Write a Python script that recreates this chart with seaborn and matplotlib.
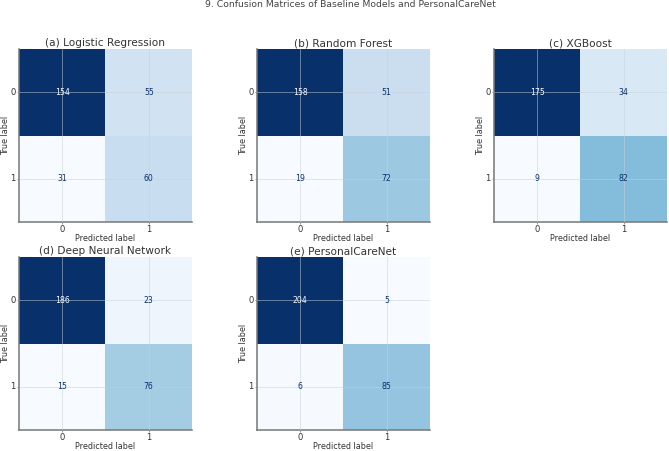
import numpy as np
import matplotlib
matplotlib.use("Agg")
import matplotlib.pyplot as plt
import seaborn as sns

# ============================================================
# DATA
# ============================================================
model_titles = [
    "(a) Logistic Regression",
    "(b) Random Forest",
    "(c) XGBoost",
    "(d) Deep Neural Network",
    "(e) PersonalCareNet",
]
cm_logreg = [[154, 55], [31, 60]]
cm_rf = [[158, 51], [19, 72]]
cm_xgb = [[175, 34], [9, 82]]
cm_dnn = [[186, 23], [15, 76]]
cm_pcn = [[204, 5], [6, 85]]
class_labels = ["0", "1"]

matrices = [cm_logreg, cm_rf, cm_xgb, cm_dnn, cm_pcn]

# ============================================================
# PLOT
# ============================================================
sns.set_style("white")
plt.rcParams["font.family"] = ["DejaVu Sans"]

fig = plt.figure(figsize=(6.69, 4.51), dpi=100)
fig.suptitle("9. Confusion Matrices of Baseline Models and PersonalCareNet",
             x=0.524, y=0.999, fontsize=6.7, color="#444444", va="top")

lefts = [0.0284, 0.384, 0.7384]
bottoms = [1 - 222 / 451, 1 - 430 / 451]
w, h = 173 / 669, 173 / 451

cmap = plt.get_cmap("Blues")

for i, (title, cm) in enumerate(zip(model_titles, matrices)):
    r, c = divmod(i, 3)
    ax = fig.add_axes([lefts[c], bottoms[r], w, h])
    cm = np.array(cm)
    sns.heatmap(cm, ax=ax, cmap="Blues", cbar=False, annot=False,
                vmin=cm.min(), vmax=cm.max(), square=False,
                xticklabels=class_labels, yticklabels=class_labels)
    thresh = (cm.max() + cm.min()) / 2
    for (yy, xx), v in np.ndenumerate(cm):
        col = cmap(0.0) if v > thresh else cmap(1.0)
        ax.text(xx + 0.5, yy + 0.5, str(v), ha="center", va="center",
                fontsize=5.6, color=col)
    # light grid drawn over the cells
    ax.set_axisbelow(False)
    ax.grid(True, color="#c8d0d8", linewidth=0.5, alpha=0.7)
    for side in ["left", "bottom"]:
        ax.spines[side].set_visible(True)
        ax.spines[side].set_color("#777777")
        ax.spines[side].set_linewidth(1.1)
    ax.tick_params(axis="both", length=1.5, width=0.6, color="#888888",
                   labelsize=6.1, labelcolor="#333333", pad=0.8,
                   left=True, bottom=True)
    ax.set_yticklabels(class_labels, rotation=0)
    ax.set_xticklabels(class_labels, rotation=0)
    ax.set_title(title, fontsize=7.6, color="#333333", pad=2)
    ax.set_xlabel("Predicted label", fontsize=5.8, color="#333333", labelpad=0)
    ax.set_ylabel("True label", fontsize=5.8, color="#333333", labelpad=0.5)

plt.savefig("out.png", dpi=100)
